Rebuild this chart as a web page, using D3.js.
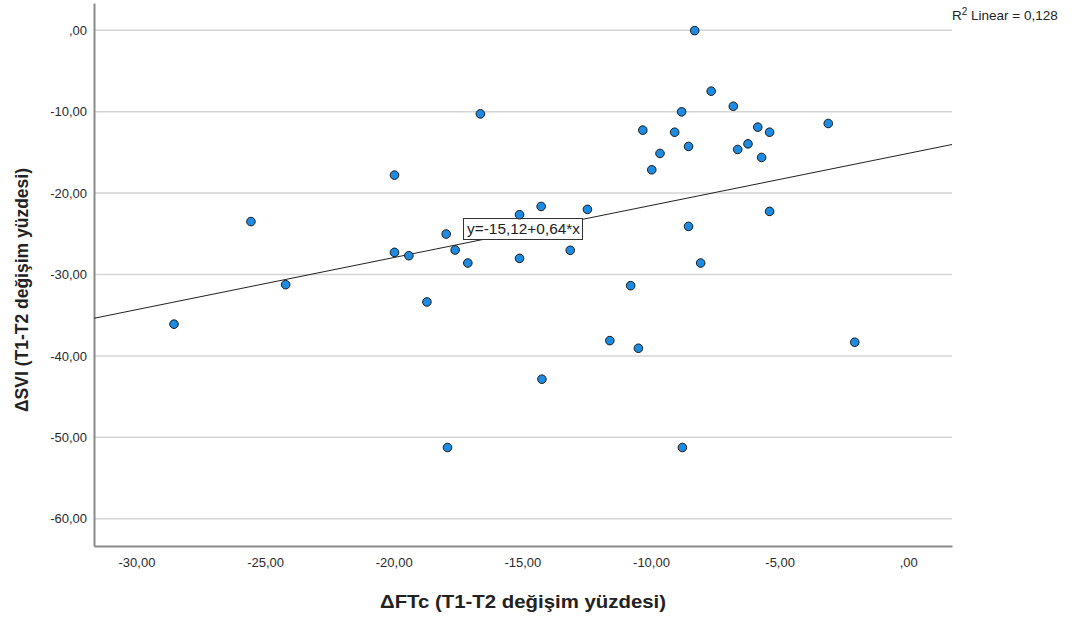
<!DOCTYPE html>
<html>
<head>
<meta charset="utf-8">
<script src="https://cdn.jsdelivr.net/npm/d3@7"></script>
<style>
  body { margin: 0; background: #fff; }
  svg { font-family: Arial, "Liberation Sans", sans-serif; }
</style>
</head>
<body>
<div id="vis"></div>
<script>
// frame
const FRAME_WIDTH = 1076;
const FRAME_HEIGHT = 619;
const MARGINS = {left: 94, right: 124, top: 3, bottom: 73};

// data
const xValues = [-28.54, -25.55, -24.20, -19.97, -19.97, -19.41, -18.71, -17.96, -17.91, -17.61,
                 -17.12, -16.63, -15.11, -15.11, -14.27, -14.24, -13.14, -12.47, -11.60, -10.79,
                 -10.49, -10.32, -9.97, -9.65, -9.08, -8.81, -8.78, -8.54, -8.54, -8.30,
                 -8.07, -7.66, -6.80, -6.63, -6.23, -5.85, -5.70, -5.39, -5.39, -3.11, -2.08];
const yValues = [-36.10, -23.50, -31.25, -17.79, -27.28, -27.69, -33.37, -25.03, -51.25, -26.99,
                 -28.59, -10.27, -22.66, -28.02, -21.64, -42.86, -27.03, -22.00, -38.12, -31.37,
                 -39.06, -12.27, -17.14, -15.13, -12.52, -10.02, -51.25, -14.27, -24.09, -0.04,
                 -28.59, -7.48, -9.33, -14.64, -13.95, -11.90, -15.62, -12.52, -22.25, -11.45, -38.32];
const xTicks = [-30, -25, -20, -15, -10, -5, 0];
const yTicks = [0, -10, -20, -30, -40, -50, -60];
const fitIntercept = -15.12;
const fitSlope = 0.64;
const rSquared = "0,128";

const points = xValues.map((x, i) => ({x: x, y: yValues[i]}));

const VIS_WIDTH = FRAME_WIDTH - MARGINS.left - MARGINS.right;
const VIS_HEIGHT = FRAME_HEIGHT - MARGINS.top - MARGINS.bottom;

const FRAME = d3.select("#vis")
  .append("svg")
    .attr("width", FRAME_WIDTH)
    .attr("height", FRAME_HEIGHT);

const X_SCALE = d3.scaleLinear()
  .domain([-31.65, 1.70])
  .range([MARGINS.left, MARGINS.left + VIS_WIDTH]);

const Y_SCALE = d3.scaleLinear()
  .domain([-63.35, 3.35])
  .range([MARGINS.top + VIS_HEIGHT, MARGINS.top]);

// spss style number with comma decimals and plain hyphen: ,00 / -10,00
const LOCALE = d3.formatLocale({decimal: ",", thousands: ".", grouping: [3], currency: ["", ""], minus: "-"});
const fmt2 = LOCALE.format(".2f");
const fmt = (v) => v === 0 ? ",00" : fmt2(v);

// horizontal grid lines
FRAME.append("g")
  .selectAll("line")
  .data(yTicks)
  .enter()
  .append("line")
    .attr("x1", MARGINS.left)
    .attr("x2", MARGINS.left + VIS_WIDTH)
    .attr("y1", (d) => Y_SCALE(d))
    .attr("y2", (d) => Y_SCALE(d))
    .attr("stroke", "#d4d4d4")
    .attr("stroke-width", 1.5);

// y axis
const yAxis = FRAME.append("g")
  .attr("transform", "translate(" + MARGINS.left + ",0)")
  .call(d3.axisLeft(Y_SCALE).tickValues(yTicks).tickFormat(fmt).tickSize(0).tickPadding(7));
yAxis.select(".domain").attr("stroke", "#8a8a8a").attr("stroke-width", 2);
yAxis.selectAll("text").attr("font-size", "13px").attr("fill", "#2a2a2a").attr("font-family", "Arial, 'Liberation Sans', sans-serif");

// x axis
const xAxis = FRAME.append("g")
  .attr("transform", "translate(0," + (MARGINS.top + VIS_HEIGHT) + ")")
  .call(d3.axisBottom(X_SCALE).tickValues(xTicks).tickFormat(fmt).tickSize(0).tickPadding(12));
xAxis.select(".domain").attr("stroke", "#8a8a8a").attr("stroke-width", 2);
xAxis.selectAll("text").attr("font-size", "13px").attr("fill", "#2a2a2a").attr("font-family", "Arial, 'Liberation Sans', sans-serif");

// fit line
const xDom = X_SCALE.domain();
FRAME.append("line")
  .attr("x1", X_SCALE(xDom[0]))
  .attr("y1", Y_SCALE(fitIntercept + fitSlope * xDom[0]))
  .attr("x2", X_SCALE(xDom[1]))
  .attr("y2", Y_SCALE(fitIntercept + fitSlope * xDom[1]))
  .attr("stroke", "#222")
  .attr("stroke-width", 1);

// equation label box
FRAME.append("rect")
  .attr("x", 463.5)
  .attr("y", 218.5)
  .attr("width", 119)
  .attr("height", 21)
  .attr("fill", "#fff")
  .attr("stroke", "#333")
  .attr("stroke-width", 1);
FRAME.append("text")
  .attr("x", 467)
  .attr("y", 234)
  .attr("font-size", "14px")
  .attr("fill", "#222")
  .attr("textLength", 113)
  .attr("lengthAdjust", "spacingAndGlyphs")
  .text("y=" + fmt(fitIntercept) + "+" + fmt(fitSlope) + "*x");

// points
FRAME.selectAll(".point")
  .data(points)
  .enter()
  .append("circle")
    .attr("class", "point")
    .attr("cx", (d) => X_SCALE(d.x))
    .attr("cy", (d) => Y_SCALE(d.y))
    .attr("r", 4.3)
    .attr("fill", "#1e8be3")
    .attr("stroke", "#1a1a1a")
    .attr("stroke-width", 1);

// r squared note
const rText = FRAME.append("text")
  .attr("x", 952)
  .attr("y", 20)
  .attr("font-size", "13.5px")
  .attr("fill", "#222");
rText.append("tspan").text("R");
rText.append("tspan").attr("dy", -5).attr("font-size", "10px").text("2");
rText.append("tspan").attr("dy", 5).text(" Linear = " + rSquared);

// axis titles
FRAME.append("text")
  .attr("x", 523)
  .attr("y", 608)
  .attr("text-anchor", "middle")
  .attr("font-size", "19px")
  .attr("font-weight", "bold")
  .attr("fill", "#222")
  .attr("textLength", 286)
  .attr("lengthAdjust", "spacingAndGlyphs")
  .text("ΔFTc (T1-T2 değişim yüzdesi)");

FRAME.append("text")
  .attr("transform", "translate(28,290) rotate(-90)")
  .attr("text-anchor", "middle")
  .attr("font-size", "18px")
  .attr("font-weight", "bold")
  .attr("fill", "#222")
  .attr("textLength", 244)
  .attr("lengthAdjust", "spacingAndGlyphs")
  .text("ΔSVI (T1-T2 değişim yüzdesi)");
</script>
</body>
</html>
